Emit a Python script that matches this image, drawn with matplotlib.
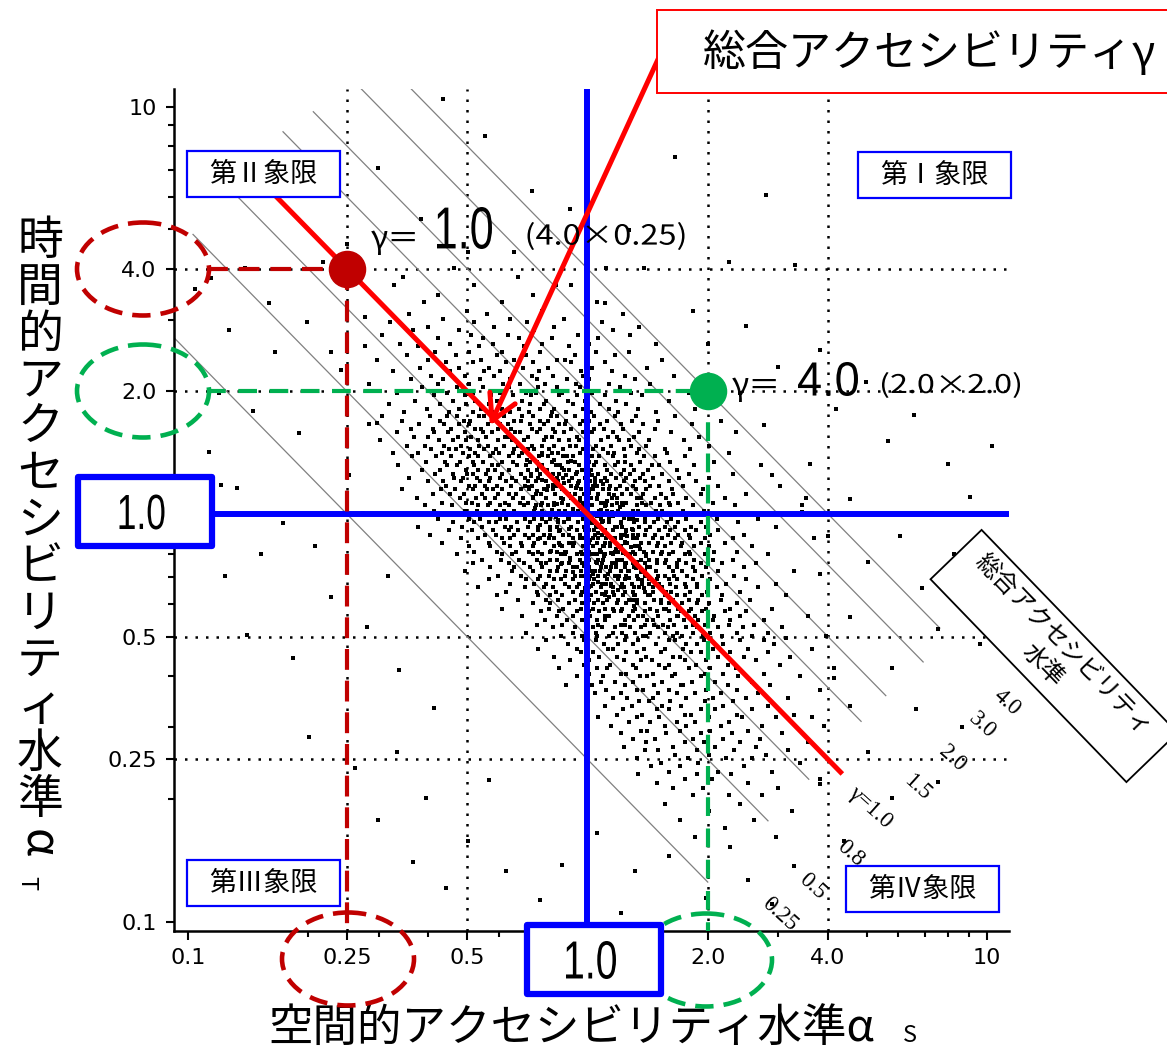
import matplotlib
matplotlib.use('Agg')
import matplotlib.pyplot as plt
from matplotlib.patches import Ellipse, Rectangle, PathPatch
from matplotlib.transforms import Affine2D
from matplotlib.ticker import FixedLocator, NullFormatter
from matplotlib.textpath import TextPath
from matplotlib.font_manager import FontProperties

plt.rcParams['font.family'] = ['Noto Sans CJK JP', 'DejaVu Sans']

# axis ticks
tick_vals = [0.1, 0.25, 0.5, 1.0, 2.0, 4.0, 10]
tick_labels = ['0.1', '0.25', '0.5', '', '2.0', '4.0', '10']
minor_vals = [0.2, 0.3, 0.4, 0.6, 0.7, 0.8, 0.9, 3, 5, 6, 7, 8, 9]
grid_vals = [0.25, 0.5, 2.0, 4.0]

# iso lines x*y = gamma
iso_gamma = [0.25, 0.5, 0.8, 1.0, 1.5, 2.0, 3.0, 4.0]
iso_x0 = [0.073, 0.103, 0.13, 0.145, 0.173, 0.206, 0.264, 0.29]
iso_x1 = [2.0, 2.83, 3.58, 4.0, 4.84, 5.58, 6.92, 7.62]
iso_labels = ['0.25', '0.5', '0.8', 'γ=1.0', '1.5', '2.0', '3.0', '4.0']
iso_lab_x = [3.03, 3.66, 4.54, 5.09, 6.7, 8.17, 9.7, 11.2]
iso_lab_y = [0.104, 0.122, 0.147, 0.191, 0.213, 0.252, 0.303, 0.344]

# highlighted gamma=1 line
g1_x = [0.155, 4.3]

# example points
pt_red = (0.25, 4.0)
pt_green = (2.0, 2.0)

# zone scatter in 1/1000 decades (1000*log10(alpha)):
# rows of (log alpha_T, [log alpha_S, ...])
upper_rows = [
    (603, [-334, 47]), (581, [-462, -173]), (562, [-285, -41]), (538, [-373, -136]),
    (521, [-408, -214, 23]), (498, [-302, -113]), (492, [-447, -251, 88]), (479, [-362, -193, -58]),
    (471, [-493, -284, -152, 37]), (458, [-398, -233, -84, 128]), (452, [-437, -322, -135, 64]),
    (439, [-513, -292, -198, -23, 107]), (431, [-374, -262, -171, -88, 26]),
    (418, [-468, -343, -237, -113, 5, 172]), (412, [-557, -423, -271, -158, -47]),
    (398, [-382, -297, -213, -118, 21, 103]), (391, [-452, -328, -226, -153, -32, 68]),
    (379, [-527, -398, -266, -183, -76, -55, 186]), (372, [-353, -287, -204, -137, -41, 43]),
    (358, [-418, -322, -247, -162, -98, 12, 148]), (351, [-487, -343, -258, -218, -121, -17, 62]),
    (338, [-392, -307, -233, -138, -86, -12, 93, 217]), (331, [-442, -362, -268, -193, -127, -52, 4, 118]),
    (318, [-548, -373, -297, -212, -168, -107, -28, 53, 157]),
    (311, [-413, -326, -262, -197, -123, -77, -18, 82]),
    (298, [-477, -352, -287, -218, -153, -128, -63, 12, 108, 253]),
    (291, [-383, -306, -242, -187, -141, -72, -27, 43, 137]),
    (278, [-432, -337, -282, -226, -163, -103, -48, -7, 72, 203]),
    (271, [-497, -368, -303, -247, -182, -143, -108, -37, 32, 97]),
    (258, [-402, -321, -267, -213, -172, -118, -83, -12, 53, 127, 268]),
    (251, [-458, -347, -286, -238, -193, -147, -88, -53, 8, 77, 172]),
]
core_rows = [
    (241, [-514, -395, -352, -326, -271, -258, -209, -163, -136, -92, -75, -31, 16, 68, 121, 219]),
    (229, [-463, -370, -308, -294, -238, -185, -166, -120, -98, -54, -12, 5, 49, 111, 176, 334]),
    (220, [-547, -421, -359, -322, -296, -250, -218, -199, -145, -110, -71, -56, -19, 32, 84, 139, 262]),
    (208, [-442, -386, -341, -281, -266, -225, -191, -140, -118, -86, -40, 17, 41, 90, 168]),
    (201, [-476, -384, -350, -306, -261, -239, -181, -169, -126, -81, -59, -10, 11, 64, 128, 210, 372]),
    (189, [-433, -398, -325, -291, -254, -206, -196, -150, -103, -88, -25, 2, 51, 74, 116, 280]),
    (181, [-518, -371, -337, -304, -275, -223, -188, -160, -108, -71, -46, -20, 34, 79, 104, 155, 241]),
    (168, [-452, -407, -360, -317, -272, -249, -210, -173, -139, -115, -84, -43, -29, 22, 58, 110, 147, 304]),
    (160, [-392, -346, -328, -293, -260, -228, -184, -149, -133, -97, -60, -12, 14, 39, 92, 129, 193, 257]),
    (149, [-487, -423, -365, -312, -281, -237, -222, -186, -163, -114, -89, -73, -18, 0, 52, 66, 124, 198,
           353]),
    (142, [-438, -380, -342, -297, -273, -245, -196, -171, -122, -98, -61, -37, 12, 28, 63, 95, 142, 168,
           243]),
    (128, [-404, -357, -320, -287, -262, -214, -187, -145, -126, -90, -48, -31, 4, 21, 76, 94, 131, 207,
           316]),
    (121, [-473, -352, -326, -284, -240, -223, -177, -155, -114, -80, -68, -22, 17, 43, 70, 108, 161, 178,
           267, 434]),
    (108, [-413, -368, -305, -273, -249, -232, -196, -150, -127, -101, -58, -46, -13, 9, 48, 91, 117, 152,
           224]),
    (99, [-381, -337, -302, -286, -255, -213, -167, -142, -120, -87, -72, -28, 3, 27, 60, 83, 107, 140, 186,
          253, 364]),
    (88, [-447, -334, -311, -276, -243, -218, -190, -157, -124, -77, -60, -38, -7, 18, 44, 71, 96, 132, 165,
          228, 303]),
    (81, [-398, -362, -316, -270, -247, -204, -178, -150, -128, -105, -73, -47, -21, 6, 33, 49, 92, 118,
          144, 204, 272]),
    (68, [-353, -297, -282, -256, -227, -191, -157, -138, -100, -78, -42, -25, 13, 24, 57, 81, 114, 157,
          180, 238, 327, 481]),
    (61, [-463, -366, -332, -287, -251, -236, -214, -166, -147, -110, -87, -63, -15, 4, 38, 72, 98, 121,
          147, 212, 290]),
    (48, [-387, -343, -308, -265, -224, -197, -180, -128, -116, -82, -46, -30, -8, 27, 53, 86, 110, 138,
          183, 215, 283, 398]),
    (40, [-427, -318, -280, -257, -232, -186, -161, -137, -103, -67, -40, -18, 8, 23, 62, 75, 124, 133,
          168, 196, 247, 343, 547]),
    (28, [-364, -303, -289, -243, -207, -170, -148, -113, -85, -63, -27, 2, 34, 45, 73, 97, 137, 160, 203,
          227, 313]),
    (21, [-407, -338, -273, -249, -218, -196, -160, -128, -117, -83, -48, -11, 12, 46, 61, 88, 123, 147,
          181, 206, 263, 368, 537]),
    (8, [-383, -307, -277, -230, -208, -183, -135, -113, -70, -57, -23, -3, 28, 50, 77, 113, 126, 172,
         187, 240, 292]),
    (1, [-467, -334, -286, -261, -237, -193, -166, -153, -97, -80, -38, -27, 17, 43, 66, 94, 118, 150, 162,
         197, 221, 268, 347]),
    (-11, [-373, -297, -270, -218, -203, -157, -134, -115, -93, -47, -10, 12, 34, 55, 103, 108, 143, 177,
           210, 247, 323, 428]),
    (-19, [-337, -284, -247, -230, -177, -143, -105, -73, -58, -23, 0, 37, 53, 84, 116, 143, 167, 200,
           226, 283, 377]),
    (-32, [-423, -313, -263, -207, -191, -148, -123, -95, -77, -42, -8, 21, 28, 73, 87, 130, 157, 193,
           218, 260, 297, 473]),
    (-39, [-347, -290, -236, -197, -173, -125, -93, -68, -25, 3, 16, 45, 63, 97, 114, 147, 180, 207,
           243, 271, 327]),
    (-51, [-393, -257, -230, -184, -157, -136, -108, -60, -47, -18, 20, 37, 83, 93, 115, 143, 168, 201,
           227, 253, 307, 393]),
    (-59, [-317, -273, -215, -193, -147, -120, -97, -83, -35, -8, 13, 27, 60, 68, 113, 125, 163, 187, 220,
           257, 293, 363, 567]),
    (-71, [-363, -247, -210, -167, -134, -107, -70, -47, -33, 4, 23, 45, 93, 98, 135, 153, 177, 210, 237,
           283, 343]),
    (-79, [-297, -243, -195, -163, -137, -85, -63, -37, -12, 14, 40, 57, 83, 120, 128, 173, 195, 233,
           267, 303, 413]),
    (-92, [-283, -227, -180, -147, -123, -95, -77, -53, -15, 3, 33, 70, 77, 113, 141, 163, 187, 215, 253,
           317, 373]),
    (-99, [-327, -213, -190, -137, -113, -65, -57, -27, 8, 23, 45, 63, 97, 120, 147, 183, 205, 243, 257,
           293, 453]),
    (-112, [-263, -217, -171, -127, -93, -75, -43, -18, 3, 27, 40, 83, 87, 133, 155, 173, 197, 230, 267,
            313, 363]),
    (-119, [-287, -197, -160, -117, -103, -63, -45, -13, 23, 37, 71, 97, 113, 143, 175, 193, 223, 246,
            283, 337, 423]),
    (-131, [-243, -183, -145, -113, -73, -37, -25, 4, 33, 47, 60, 93, 117, 150, 157, 203, 225, 263, 297,
            393]),
    (-139, [-307, -190, -137, -93, -75, -53, -17, 12, 20, 57, 83, 105, 133, 143, 171, 213, 237, 270, 327,
            517]),
    (-151, [-223, -167, -120, -97, -57, -31, -7, 27, 43, 70, 97, 123, 145, 177, 193, 217, 250, 287, 367]),
    (-159, [-247, -153, -125, -83, -67, -35, 3, 17, 50, 77, 93, 127, 155, 173, 203, 225, 263, 307, 397]),
    (-172, [-193, -135, -103, -57, -20, 13, 37, 60, 87, 111, 137, 153, 180, 207, 243, 275, 347, 473]),
    (-179, [-273, -157, -110, -87, -47, -25, 3, 33, 65, 83, 117, 130, 163, 187, 221, 247, 273, 323, 427]),
    (-191, [-203, -127, -80, -37, -13, 21, 47, 63, 95, 113, 143, 165, 197, 210, 257, 300, 383]),
    (-198, [-227, -123, -95, -63, -17, 10, 43, 67, 90, 117, 151, 157, 193, 225, 243, 287, 337, 497]),
    (-211, [-173, -105, -73, -30, 3, 27, 50, 77, 113, 125, 167, 183, 215, 253, 277, 333, 407]),
    (-219, [-137, -93, -45, -13, 17, 40, 73, 97, 125, 143, 183, 205, 237, 273, 305, 373]),
    (-232, [-213, -97, -60, -17, 13, 45, 63, 87, 120, 157, 191, 197, 227, 260, 297, 357, 463]),
    (-238, [-117, -71, -27, 3, 30, 67, 83, 113, 145, 173, 203, 235, 253, 287, 343, 397]),
    (-251, [-163, -77, -35, 7, 43, 55, 103, 127, 140, 177, 223, 227, 270, 317, 383, 553]),
    (-259, [-107, -50, -13, 23, 45, 93, 117, 150, 163, 207, 241, 277, 313, 357, 443]),
    (-272, [-127, -63, 0, 27, 83, 95, 143, 167, 190, 217, 263, 295, 353, 417]),
    (-278, [-87, -31, 13, 37, 70, 107, 133, 177, 201, 247, 273, 327, 390, 487]),
    (-291, [-153, -37, 21, 63, 87, 120, 157, 193, 225, 263, 307, 373, 453]),
    (-299, [-67, -13, 25, 53, 97, 140, 147, 213, 237, 290, 337, 413, 597]),
]
lower_rows = [
    (-309, [-103, -8, 22, 93, 127, 203, 218, 292, 383, 441]), (-318, [-48, 42, 77, 113, 172, 247, 273, 338, 467]),
    (-331, [-123, -27, 52, 63, 141, 193, 238, 313, 402, 563]), (-338, [-17, 13, 97, 124, 183, 258, 283, 357, 452]),
    (-352, [-83, 28, 73, 147, 213, 232, 327, 393, 508]), (-358, [-43, 4, 92, 133, 162, 243, 297, 423]),
    (-371, [-8, 57, 113, 178, 203, 271, 352, 483]), (-379, [-72, 23, 48, 122, 193, 253, 307, 372, 617]),
    (-392, [3, 83, 97, 163, 218, 293, 338, 443]), (-398, [-27, 38, 131, 148, 212, 283, 377, 532]),
    (-411, [33, 68, 113, 187, 262, 318, 412]), (-419, [-53, 12, 93, 167, 233, 238, 352, 457]),
    (-432, [47, 123, 138, 203, 297, 373, 583]), (-438, [18, 83, 177, 223, 268, 333, 428]),
    (-452, [63, 98, 163, 247, 313, 397, 503]), (-458, [2, 128, 153, 207, 293, 363]),
    (-471, [43, 112, 187, 233, 338, 452, 657]), (-479, [88, 173, 203, 283, 318, 412]),
    (-492, [73, 137, 243, 258, 373, 517]), (-498, [27, 123, 178, 303, 387, 473]),
    (-511, [103, 157, 223, 268, 353]), (-519, [58, 193, 247, 333, 437, 593]),
    (-532, [133, 148, 232, 307, 403]), (-538, [83, 197, 283, 362, 487]),
    (-551, [113, 168, 263, 338, 433]), (-559, [147, 243, 292, 383, 553]), (-572, [92, 213, 318, 423]),
    (-578, [143, 177, 273, 367, 503]), (-591, [218, 303, 447]), (-598, [123, 252, 347, 413]),
    (-611, [183, 277, 533]), (-619, [158, 232, 393]), (-632, [203, 327, 462]), (-638, [127, 273, 358]),
    (-651, [243, 312, 583]), (-659, [173, 403]), (-672, [213, 288, 477]), (-689, [263, 353, 437]),
    (-711, [193, 383]), (-729, [303, 513]), (-752, [232, 418]), (-771, [343]), (-792, [268, 472]),
    (-818, [357]),
]
# extra zones in the dark centre of the cloud, (log alpha_S, log alpha_T)
center_pts = [
    (-142, 93), (-127, 57), (-113, 84), (-98, 22), (-86, 71), (-74, -14), (-61, 38), (-53, 97), (-47, -36),
    (-35, 12), (-28, 64), (-19, -58), (-12, 27), (-4, -83), (3, 51), (11, -21), (18, 79), (26, -47), (33, 9),
    (41, -104), (49, 33), (56, -72), (64, -5), (72, -131), (81, 18), (88, -96), (97, -42), (105, -158),
    (113, -11), (124, -117), (-136, 41), (-121, 118), (-109, 3), (-94, -52), (-83, 133), (-69, -77),
    (-58, 76), (-44, -109), (-31, 48), (-22, -3), (-9, -127), (-1, 88), (7, -63), (15, -148), (23, 36),
    (31, -89), (38, -17), (46, -171), (53, 62), (61, -121), (69, -33), (77, -186), (84, -58), (92, -9),
    (101, -139), (109, -81), (118, -198), (127, -52), (136, -163), (147, -104), (-151, 132), (-132, 16),
    (-118, -28), (-104, 107), (-91, -91), (-77, 24), (-66, -123), (-52, 143), (-39, -71), (-26, 103),
    (-16, -152), (-6, -38), (2, 119), (9, -176), (17, -97), (24, -6), (32, -139), (39, 74), (47, -58),
    (55, -203), (62, 6), (71, -87), (79, -151), (86, 28), (95, -68), (103, -212), (112, -37), (121, -133),
    (131, -87), (142, -181), (-146, 67), (-124, -61), (-101, 58), (-88, 9), (-72, -42), (-63, 114),
    (-49, -12), (-37, -142), (-24, 77), (-13, -99), (-3, 14), (6, -153), (14, 62), (21, -118), (29, -29),
    (36, -197), (44, 19), (52, -146), (59, -96), (67, 47), (74, -112), (83, -23), (91, -178), (99, -54),
    (107, -97), (116, -226), (125, -14), (134, -142), (-115, 146), (-80, -8), (-57, -93), (-42, 129),
    (-18, 33), (-7, -181), (12, 97), (27, -166), (42, -78), (58, -176), (76, -2), (93, -121),
]
# isolated zones, (log alpha_S, log alpha_T)
sparse_pts = [
    (-362, 1018), (-257, 927), (-523, 848), (-138, 792), (-417, 723), (-43, 748), (-603, 662), (-298, 643),
    (103, 697), (218, 877), (353, 618), (519, 612), (447, 783), (-662, 618), (-858, 603), (-943, 578),
    (-982, 553), (-797, 517), (-703, 472), (-897, 452), (-783, 398), (-618, 353), (-923, 297), (-838, 253),
    (-722, 198), (-947, 152), (-877, 63), (-763, -23), (-908, -152), (-818, -97), (-683, -78), (-642, -203),
    (-853, -297), (-737, -353), (-603, -418), (-698, -547), (-583, -622), (-477, -583), (-523, -752),
    (-403, -697), (-437, -853), (-298, -803), (-353, -917), (-203, -877), (-118, -948), (-247, -653),
    (-383, -477), (-472, -383), (-553, -278), (-498, -153), (-563, 3), (-598, 97), (-527, 223), (-643, 398),
    (-557, 483), (-483, 562), (-183, 643), (-78, 563), (43, 518), (142, 603), (263, 497), (302, 418),
    (398, 462), (383, 297), (477, 362), (583, 403), (622, 258), (697, 323), (753, 178), (818, 243),
    (903, 122), (1012, 168), (957, 43), (863, 2), (783, -53), (917, -98), (1018, -143), (838, -182),
    (703, -118), (657, -253), (878, -283), (983, -318), (763, -377), (618, -403), (822, -478), (937, -523),
    (703, -583), (583, -663), (762, -697), (877, -657), (643, -803), (518, -863), (698, -897), (403, -898),
    (463, -957), (297, -943), (203, -838), (118, -877), (23, -783), (-63, -862), (83, -978), (563, -498),
    (497, -303), (583, -148), (538, 4), (462, 97), (443, 218), (558, 123), (657, 38), (603, -53),
    (-917, 72), (-968, -38),
]

scatter_x, scatter_y = [], []
for ly, lxs in upper_rows + core_rows + lower_rows:
    for lx in lxs:
        scatter_x.append(10 ** (lx / 1000))
        scatter_y.append(10 ** (ly / 1000))
for lx, ly in center_pts + sparse_pts:
    scatter_x.append(10 ** (lx / 1000))
    scatter_y.append(10 ** (ly / 1000))

W, H = 1167, 1056
fig = plt.figure(figsize=(W / 100, H / 100), dpi=100)
ax = fig.add_axes([174 / W, 1 - 931 / H, (1009 - 174) / W, (931 - 89) / H])
# pixel coordinates (origin top-left) for the annotation overlay
pix = Affine2D().scale(1 / W, -1 / H).translate(0, 1) + fig.transFigure


def narrow_text(cx, cy, s, w, h, family='Liberation Sans'):
    # text squeezed into a w x h pixel box (condensed look of the original)
    tp = TextPath((0, 0), s, size=50, prop=FontProperties(family=family))
    bb = tp.get_extents()
    tr = (Affine2D().translate(-(bb.x0 + bb.width / 2), -(bb.y0 + bb.height / 2))
          .scale(w / bb.width, -h / bb.height).translate(cx, cy) + pix)
    fig.add_artist(PathPatch(tp, transform=tr, facecolor='black', edgecolor='none', zorder=9))


ax.set_xscale('log')
ax.set_yscale('log')
ax.set_xlim(0.0923, 11.35)
ax.set_ylim(0.0948, 11.04)
for axis in (ax.xaxis, ax.yaxis):
    axis.set_major_locator(FixedLocator(tick_vals))
    axis.set_minor_locator(FixedLocator(minor_vals))
    axis.set_minor_formatter(NullFormatter())
ax.set_xticklabels(tick_labels)
ax.set_yticklabels(tick_labels)
ax.tick_params(which='major', length=6.5, width=1.5, labelsize=16, pad=6,
               labelfontfamily='DejaVu Sans')
ax.tick_params(which='minor', length=4, width=1.5)
ax.tick_params(axis='y', which='major', length=5.5, pad=7)
for s in ['top', 'right']:
    ax.spines[s].set_visible(False)
for s in ['left', 'bottom']:
    ax.spines[s].set_linewidth(1.8)

# dotted reference grid
for v in grid_vals:
    ax.axvline(v, color='black', lw=1.8, ls=(0, (1, 3.2)), zorder=1)
    ax.axhline(v, color='black', lw=1.8, ls=(0, (1, 3.2)), zorder=1)

# iso-accessibility lines
for g, x0, x1 in zip(iso_gamma, iso_x0, iso_x1):
    ax.plot([x0, x1], [g / x0, g / x1], color='#808080', lw=0.9, zorder=1.5)
for lab, lx, ly in zip(iso_labels, iso_lab_x, iso_lab_y):
    ax.text(lx, ly, lab, rotation=-42, ha='center', va='center', fontsize=16.5,
            family=['Liberation Serif', 'DejaVu Serif'], clip_on=False, zorder=5)

ax.scatter(scatter_x, scatter_y, marker='s', s=10, color='black', linewidths=0, zorder=2)

# blue axes through (1,1)
ax.axvline(1.0, color='#0000FF', lw=4.3, zorder=4)
ax.axhline(1.0, color='#0000FF', lw=4.3, zorder=4)

# gamma = 1 line
ax.plot(g1_x, [1 / x for x in g1_x], color='#FF0000', lw=3.6, zorder=4.5)

# example points with dashed guides
xl = ax.get_xlim()[0] * 1.21
yb = ax.get_ylim()[0]
ax.plot([xl, pt_red[0]], [pt_red[1]] * 2, color='#C00000', lw=3, ls=(0, (5, 2.6)), zorder=5)
ax.plot([pt_red[0]] * 2, [pt_red[1], yb], color='#C00000', lw=3, ls=(0, (5, 2.6)), zorder=5)
ax.plot([xl, pt_green[0]], [pt_green[1]] * 2, color='#00B050', lw=3, ls=(0, (4.5, 3)), zorder=5)
ax.plot([pt_green[0]] * 2, [pt_green[1], yb], color='#00B050', lw=3, ls=(0, (4.5, 3)), zorder=5)
ax.plot(*pt_red, 'o', ms=26, color='#C00000', zorder=6)
ax.plot(*pt_green, 'o', ms=26, color='#00B050', zorder=6)

# gamma annotations
ax.text(371, 240, 'γ＝', transform=pix, fontsize=23, va='center', ha='left', zorder=7)
narrow_text(464.5, 228, '1.0', 55, 42)
narrow_text(606, 236, '(4.0×0.25)', 157, 28, family='Noto Sans CJK JP')
ax.text(732, 387, 'γ＝', transform=pix, fontsize=23, va='center', ha='left', zorder=7)
narrow_text(828, 379, '4.0', 60, 34)
narrow_text(951, 385, '(2.0×2.0)', 138, 26, family='Noto Sans CJK JP')

# quadrant boxes
quads = [('第Ⅱ象限', 187, 151), ('第Ⅰ象限', 858, 152), ('第Ⅲ象限', 187, 860), ('第Ⅳ象限', 846, 866)]
for lab, qx, qy in quads:
    fig.add_artist(Rectangle((qx, qy), 153, 46, transform=pix, facecolor='white',
                             edgecolor='#0000FF', lw=1.6, zorder=8))
    fig.text(qx + 76, qy + 23, lab, transform=pix, fontsize=19.5, ha='center', va='center', zorder=9)

# rotated legend box
fig.add_artist(Rectangle((1054 - 141, 656 - 35.5), 282, 71, angle=46, rotation_point='center',
                         transform=pix, facecolor='white', edgecolor='black', lw=1.3, zorder=8))
fig.text(1053, 655, '総合アクセシビリティ\n水準', transform=pix, rotation=-46, fontsize=17.5,
         ha='center', va='center', multialignment='center', rotation_mode='anchor',
         linespacing=1.1, zorder=9)

# dashed ellipses around tick labels
ell = [((143, 269), '#C00000'), ((143, 391), '#00B050'), ((348, 959), '#C00000'), ((706, 960), '#00B050')]
for (cx, cy), col in ell:
    fig.add_artist(Ellipse((cx, cy), 132, 93, transform=pix, fill=False, edgecolor=col,
                           lw=3.3, ls=(0, (4, 2.2)), zorder=8))

# blue "1.0" boxes
for (bx, by), (tw, th) in zip([(78, 477), (527, 925)], [(45, 35), (50, 38)]):
    fig.add_artist(Rectangle((bx, by), 134, 69, transform=pix, facecolor='white',
                             edgecolor='#0000FF', lw=4.5, joinstyle='round', zorder=8))
    narrow_text(bx + 64, by + 35, '1.0', tw, th)

# callout box and arrow
fig.add_artist(Rectangle((657, 10), 530, 83, transform=pix, facecolor='white',
                         edgecolor='#FF0000', lw=1.4, zorder=8))
fig.text(703, 53, '総合アクセシビリティγ', transform=pix, fontsize=31, ha='left', va='center', zorder=9)
ax.annotate('', xy=(0.57, 1.65), xycoords='data', xytext=(660, 55), textcoords=pix,
            arrowprops=dict(arrowstyle='->,head_length=1.8,head_width=1.0', color='#FF0000',
                            lw=3.6, shrinkA=0, shrinkB=0),
            annotation_clip=False, zorder=7)

# axis titles
ylab_chars = list('時間的アクセシビリティ水準')
for i, ch in enumerate(ylab_chars):
    fig.text(40, 241 + i * 46.6, ch, transform=pix, fontsize=33, ha='center', va='center')
fig.text(37, 843, 'α', transform=pix, fontsize=33, ha='center', va='center', rotation=-90)
fig.text(27, 883, 'T', transform=pix, fontsize=17, ha='center', va='center', rotation=-90)
fig.text(268, 1028, '空間的アクセシビリティ水準α', transform=pix, fontsize=32, ha='left', va='center')
fig.text(910, 1036, 'S', transform=pix, fontsize=17, ha='center', va='center')

fig.savefig('out.png', dpi=100)
